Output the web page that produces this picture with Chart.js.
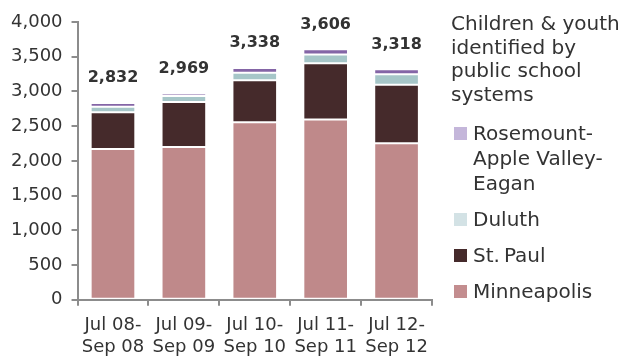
<!DOCTYPE html>
<html>
<head>
<meta charset="utf-8">
<script src="https://cdn.jsdelivr.net/npm/chart.js"></script>
<style>
  html, body { margin: 0; padding: 0; background: #fff; }
  #wrap { position: relative; width: 626px; height: 358px; }
  #legend {
    position: absolute; left: 451px; top: 12px; width: 175px;
    font-family: "DejaVu Sans", sans-serif; font-size: 20px; color: #333; line-height: 23.5px;
    white-space: nowrap;
  }
  #legend .item { position: relative; padding-left: 22px; margin-top: 11px; line-height: 25px; }
  #legend .item:nth-child(2) { margin-top: 15px; }
  #legend .box { position: absolute; left: 3px; top: 6px; width: 13px; height: 13px; }
</style>
</head>
<body>
<div id="wrap">
  <canvas id="chart" width="626" height="358"></canvas>
  <div id="legend"></div>
</div>
<script>
// 数据
const categories = [['Jul 08-', 'Sep 08'], ['Jul 09-', 'Sep 09'], ['Jul 10-', 'Sep 10'], ['Jul 11-', 'Sep 11'], ['Jul 12-', 'Sep 12']];
const minneapolis = [2170, 2201, 2555, 2595, 2255];
const stPaul = [530, 646, 608, 812, 840];
const duluth = [80, 87, 107, 125, 151];
const rosemount = [52, 35, 68, 74, 72];
const yTicks = [0, 500, 1000, 1500, 2000, 2500, 3000, 3500, 4000];
const legendTitle = ['Children & youth', 'identified by', 'public school', 'systems'];

const series = [
  { label: ['Minneapolis'], data: minneapolis, color: '#bf898a', box: '#c38d8f' },
  { label: ['St.\u2009Paul'], data: stPaul, color: '#452a2b', box: '#452a2b' },
  { label: ['Duluth'], data: duluth, color: '#a6c6c8', box: '#d3e2e5' },
  { label: ['Rosemount-', 'Apple Valley-', 'Eagan'], data: rosemount, color: '#8465a6', box: '#c4b6da' }
];

// 柱顶合计
const totalLabels = {
  id: 'totalLabels',
  afterDatasetsDraw(chart) {
    const ctx = chart.ctx;
    const last = chart.getDatasetMeta(chart.data.datasets.length - 1);
    ctx.save();
    ctx.font = 'bold 16px "DejaVu Sans", sans-serif';
    ctx.fillStyle = '#333';
    ctx.textAlign = 'center';
    ctx.textBaseline = 'middle';
    categories.forEach((c, i) => {
      const total = series.reduce((s, d) => s + d.data[i], 0);
      const bar = last.data[i];
      ctx.fillText(total.toLocaleString('en-US'), bar.x, bar.y - 25);
    });
    ctx.restore();
  }
};

new Chart(document.getElementById('chart'), {
  type: 'bar',
  data: {
    labels: categories,
    datasets: series.map(s => ({
      label: s.label.join(' '),
      data: s.data,
      backgroundColor: s.color,
      borderColor: 'rgba(255,255,255,0.35)',
      borderWidth: 1,
      borderSkipped: false,
      barPercentage: 0.63,
      categoryPercentage: 1
    }))
  },
  options: {
    responsive: false,
    animation: false,
    layout: { padding: { top: 22, right: 194, left: 2, bottom: -9 } },
    plugins: { legend: { display: false }, tooltip: { enabled: false } },
    scales: {
      x: {
        stacked: true,
        border: { color: '#8c8c8c', width: 2 },
        grid: { drawOnChartArea: false, color: '#8c8c8c', lineWidth: 2, tickLength: 6 },
        ticks: { color: '#333', font: { family: 'DejaVu Sans', size: 18, lineHeight: 1.2 }, padding: 9, maxRotation: 0 }
      },
      y: {
        stacked: true,
        min: 0, max: 4000,
        afterBuildTicks: axis => { axis.ticks = yTicks.map(v => ({ value: v })); },
        border: { color: '#8c8c8c', width: 2 },
        grid: { drawOnChartArea: false, color: '#8c8c8c', lineWidth: 2, tickLength: 6 },
        ticks: { color: '#333', font: { family: 'DejaVu Sans', size: 18 }, padding: 9,
          callback: v => v.toLocaleString('en-US') }
      }
    }
  },
  plugins: [totalLabels]
});

// 图例
const legend = document.getElementById('legend');
legend.innerHTML = '<div>' + legendTitle.join('<br>') + '</div>' +
  series.slice().reverse().map(s =>
    '<div class="item"><span class="box" style="background:' + s.box + '"></span>' + s.label.join('<br>') + '</div>'
  ).join('');
</script>
</body>
</html>
